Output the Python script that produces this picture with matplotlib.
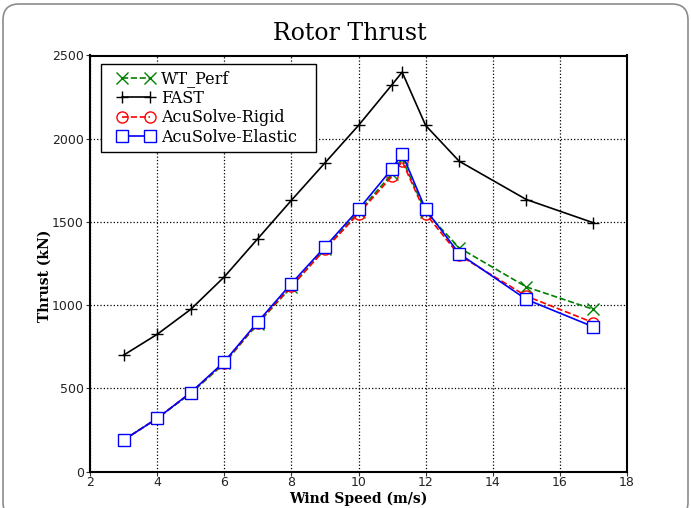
import matplotlib
matplotlib.use('Agg')
import matplotlib.pyplot as plt
from matplotlib.patches import FancyBboxPatch
from matplotlib.transforms import IdentityTransform
from matplotlib.legend_handler import HandlerLine2D

wind_speed = [3, 4, 5, 6, 7, 8, 9, 10, 11, 11.3, 12, 13, 15, 17]
wt_perf = [190, 320, 470, 650, 890, 1110, 1340, 1560, 1790, 1880, 1560, 1345, 1110, 975]
fast = [700, 825, 975, 1170, 1400, 1630, 1855, 2080, 2325, 2400, 2080, 1865, 1635, 1495]
acu_rigid = [190, 320, 475, 655, 895, 1115, 1335, 1550, 1775, 1865, 1550, 1300, 1055, 895]
acu_elastic = [190, 320, 475, 660, 900, 1130, 1350, 1575, 1820, 1910, 1575, 1310, 1035, 870]

W, H, DPI = 691, 508, 100
SERIF = 'DejaVu Serif'
AX_L, AX_R, AX_T, AX_B = 90, 627, 55.5, 471.7


def main():
    fig = plt.figure(figsize=(W / DPI, H / DPI), dpi=DPI)
    fig.patch.set_facecolor('white')

    # slide-like rounded frame
    frame = FancyBboxPatch((3, -10), 685, 514,
                           boxstyle='round,pad=0,rounding_size=16',
                           transform=IdentityTransform(), fill=False,
                           edgecolor='#8c8c8c', linewidth=1.2)
    fig.patches.append(frame)

    ax = fig.add_axes([AX_L / W, 1 - AX_B / H, (AX_R - AX_L) / W, (AX_B - AX_T) / H])

    ax.plot(wind_speed, wt_perf, color='green', linestyle='--', marker='x',
            markersize=8, markeredgewidth=1.0, linewidth=1.2, label='WT_Perf',
            zorder=3)
    ax.plot(wind_speed, fast, color='black', linestyle='-', marker='+',
            markersize=9, markeredgewidth=1.0, linewidth=1.2, label='FAST',
            zorder=3)
    ax.plot(wind_speed, acu_rigid, color='red', linestyle='--', marker='o',
            markersize=8, markerfacecolor='none', markeredgecolor='red',
            markeredgewidth=1.0, linewidth=1.2, label='AcuSolve-Rigid', zorder=4)
    ax.plot(wind_speed, acu_elastic, color='blue', linestyle='-', marker='s',
            markersize=8, markerfacecolor='white', markeredgecolor='blue',
            markeredgewidth=1.0, linewidth=1.2, label='AcuSolve-Elastic', zorder=5)

    ax.set_xlim(2, 18)
    ax.set_ylim(0, 2500)
    ax.set_xticks(range(2, 19, 2))
    ax.set_yticks(range(0, 2501, 500))
    ax.grid(True, color='black', linestyle=':', linewidth=0.9)
    ax.set_axisbelow(True)

    for s in ax.spines.values():
        s.set_linewidth(1.5)
    ax.tick_params(direction='out', length=3, width=0.8, pad=1.5, labelsize=9,
                   colors='#333333', labelcolor='#222222')
    ax.tick_params(axis='x', pad=0.3)
    for lab in ax.get_xticklabels() + ax.get_yticklabels():
        lab.set_family('DejaVu Sans')

    ax.set_xlabel('Wind Speed (m/s)', family=SERIF, fontweight='bold', fontsize=10)
    ax.xaxis.label.set_va('center')
    ax.xaxis.set_label_coords(0.5, (AX_B - 498.5) / (AX_B - AX_T))
    ax.set_ylabel('Thrust (kN)', family=SERIF, fontweight='bold', fontsize=10)
    ax.yaxis.label.set_va('center')
    ax.yaxis.set_label_coords((45 - AX_L) / (AX_R - AX_L), 0.47)

    fig.text(0.506, 0.935, 'Rotor Thrust', family=SERIF, fontsize=17,
             ha='center', va='center')

    # legend box spans fixed pixels like the original
    lx0 = (101 - AX_L) / (AX_R - AX_L)
    lw = (316 - 101) / (AX_R - AX_L)
    ly1 = (AX_B - 64) / (AX_B - AX_T)
    leg = ax.legend(loc='upper left', bbox_to_anchor=(lx0, ly1 - 0.3, lw, 0.3),
                    mode='expand', borderaxespad=0, numpoints=2, fancybox=False,
                    prop={'family': SERIF, 'size': 11.5},
                    borderpad=0.4, labelspacing=0.15, handlelength=3.57,
                    handletextpad=-0.2, framealpha=1,
                    handler_map={matplotlib.lines.Line2D: HandlerLine2D(marker_pad=0.91)})
    leg.get_frame().set_edgecolor('black')
    leg.get_frame().set_linewidth(1.0)

    fig.savefig('out.png', dpi=DPI)


if __name__ == '__main__':
    main()
